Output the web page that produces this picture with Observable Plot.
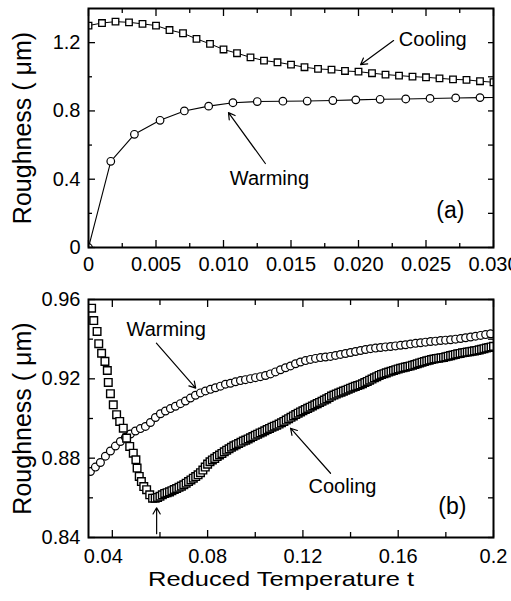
<!DOCTYPE html>
<html>
<head>
<meta charset="utf-8">
<script src="https://cdn.jsdelivr.net/npm/d3@7"></script>
<script src="https://cdn.jsdelivr.net/npm/@observablehq/plot@0.6"></script>
<style>
  html, body { margin: 0; padding: 0; background: white; overflow: hidden; }
  #chart svg { display: block; }
</style>
</head>
<body>
<div id="chart"></div>
<script>
// ---------- Panel (a) data ----------
const topCoolT = [0, 0.001, 0.002, 0.003, 0.004, 0.005, 0.006, 0.007, 0.008, 0.009, 0.010,
  0.011, 0.012, 0.013, 0.014, 0.015, 0.016, 0.017, 0.018, 0.019, 0.020,
  0.021, 0.022, 0.023, 0.024, 0.025, 0.026, 0.027, 0.028, 0.029, 0.030];
const topCoolV = [1.300, 1.315, 1.323, 1.319, 1.310, 1.300, 1.274, 1.255, 1.222, 1.193, 1.160,
  1.138, 1.114, 1.095, 1.085, 1.071, 1.056, 1.046, 1.042, 1.034, 1.030,
  1.021, 1.013, 1.007, 1.001, 0.997, 0.991, 0.985, 0.982, 0.974, 0.968];
const topWarmT = [0, 0.00165, 0.0034, 0.0053, 0.0071, 0.0089, 0.0107, 0.0125, 0.0144, 0.0162,
  0.0181, 0.0198, 0.0216, 0.0235, 0.0253, 0.0272, 0.0290, 0.0309];
const topWarmV = [0, 0.505, 0.663, 0.745, 0.800, 0.828, 0.848, 0.855, 0.857, 0.858,
  0.861, 0.865, 0.868, 0.870, 0.873, 0.876, 0.878, 0.879];

// ---------- Panel (b) data ----------
const botWarmT = [0.0308, 0.0329, 0.0350, 0.0371, 0.0392, 0.0413, 0.0434, 0.0455, 0.0476, 0.0497,
  0.0518, 0.0539, 0.0560, 0.0581, 0.0602, 0.0623, 0.0644, 0.0665, 0.0686, 0.0707,
  0.0728, 0.0749, 0.0770, 0.0791, 0.0812, 0.0833, 0.0854, 0.0875, 0.0896, 0.0917,
  0.0938, 0.0959, 0.0980, 0.1001, 0.1022, 0.1043, 0.1064, 0.1085, 0.1106, 0.1127,
  0.1148, 0.1169, 0.1190, 0.1211, 0.1232, 0.1253, 0.1274, 0.1295, 0.1316, 0.1337,
  0.1358, 0.1379, 0.1400, 0.1421, 0.1442, 0.1463, 0.1484, 0.1505, 0.1526, 0.1547,
  0.1568, 0.1589, 0.1610, 0.1631, 0.1652, 0.1673, 0.1694, 0.1715, 0.1736, 0.1757,
  0.1778, 0.1799, 0.1820, 0.1841, 0.1862, 0.1883, 0.1904, 0.1925, 0.1946, 0.1967, 0.1988];
const botWarmV = [0.8733, 0.8755, 0.8778, 0.8810, 0.8836, 0.8861, 0.8884, 0.8905, 0.8922, 0.8937,
  0.8949, 0.8960, 0.8980, 0.9005, 0.9024, 0.9038, 0.9050, 0.9062, 0.9075, 0.9088,
  0.9103, 0.9117, 0.9129, 0.9139, 0.9147, 0.9155, 0.9163, 0.9173, 0.9178, 0.9185,
  0.9191, 0.9196, 0.9201, 0.9206, 0.9211, 0.9217, 0.9225, 0.9235, 0.9246, 0.9256,
  0.9265, 0.9276, 0.9285, 0.9292, 0.9298, 0.9303, 0.9307, 0.9310, 0.9313, 0.9318,
  0.9323, 0.9328, 0.9333, 0.9338, 0.9343, 0.9348, 0.9352, 0.9355, 0.9358, 0.9361,
  0.9363, 0.9366, 0.9369, 0.9372, 0.9376, 0.9379, 0.9382, 0.9385, 0.9388, 0.9390,
  0.9393, 0.9395, 0.9397, 0.9400, 0.9403, 0.9407, 0.9411, 0.9415, 0.9419, 0.9423, 0.9427];

const botCoolT = [0.0313, 0.0322, 0.0336, 0.0343, 0.0355, 0.0369, 0.0379, 0.0383, 0.0392, 0.0404,
  0.0418, 0.0431, 0.0446, 0.0460, 0.0473, 0.0488, 0.0499, 0.0504, 0.0513, 0.0522,
  0.0532, 0.0544, 0.0557, 0.0569,
  0.058, 0.059, 0.060, 0.061, 0.062, 0.063, 0.064, 0.065, 0.066, 0.067, 0.068, 0.069,
  0.070, 0.071, 0.072, 0.073, 0.074, 0.075, 0.076, 0.077, 0.078, 0.079,
  0.080, 0.081, 0.082, 0.083, 0.084, 0.085, 0.086, 0.087, 0.088, 0.089,
  0.090, 0.091, 0.092, 0.093, 0.094, 0.095, 0.096, 0.097, 0.098, 0.099,
  0.100, 0.101, 0.102, 0.103, 0.104, 0.105, 0.106, 0.107, 0.108, 0.109,
  0.110, 0.111, 0.112, 0.113, 0.114, 0.115, 0.116, 0.117, 0.118, 0.119,
  0.120, 0.121, 0.122, 0.123, 0.124, 0.125, 0.126, 0.127, 0.128, 0.129,
  0.130, 0.131, 0.132, 0.133, 0.134, 0.135, 0.136, 0.137, 0.138, 0.139,
  0.140, 0.141, 0.142, 0.143, 0.144, 0.145, 0.146, 0.147, 0.148, 0.149,
  0.150, 0.151, 0.152, 0.153, 0.154, 0.155, 0.156, 0.157, 0.158, 0.159,
  0.160, 0.161, 0.162, 0.163, 0.164, 0.165, 0.166, 0.167, 0.168, 0.169,
  0.170, 0.171, 0.172, 0.173, 0.174, 0.175, 0.176, 0.177, 0.178, 0.179,
  0.180, 0.181, 0.182, 0.183, 0.184, 0.185, 0.186, 0.187, 0.188, 0.189,
  0.190, 0.191, 0.192, 0.193, 0.194, 0.195, 0.196, 0.197, 0.198, 0.199, 0.200];
const botCoolV = [0.9556, 0.9494, 0.9439, 0.9377, 0.9329, 0.9288, 0.9242, 0.9182, 0.9125, 0.9069,
  0.9019, 0.8985, 0.8951, 0.8901, 0.8859, 0.8825, 0.8792, 0.8750, 0.8708, 0.8682,
  0.8657, 0.8641, 0.8615, 0.8598,
  0.8598, 0.8602, 0.8608, 0.8615, 0.8622, 0.8626, 0.8630, 0.8636, 0.8642, 0.8647, 0.8653, 0.8659,
  0.8666, 0.8674, 0.8682, 0.8690, 0.8699, 0.8707, 0.8716, 0.8727, 0.8740, 0.8755,
  0.8770, 0.8782, 0.8791, 0.8799, 0.8808, 0.8816, 0.8824, 0.8832, 0.8840, 0.8847,
  0.8855, 0.8862, 0.8868, 0.8874, 0.8880, 0.8886, 0.8891, 0.8897, 0.8903, 0.8909,
  0.8915, 0.8921, 0.8927, 0.8932, 0.8938, 0.8944, 0.8950, 0.8956, 0.8961, 0.8966,
  0.8972, 0.8978, 0.8985, 0.8992, 0.8999, 0.9006, 0.9013, 0.9020, 0.9027, 0.9033,
  0.9039, 0.9045, 0.9051, 0.9057, 0.9063, 0.9069, 0.9075, 0.9081, 0.9087, 0.9093,
  0.9099, 0.9106, 0.9113, 0.9118, 0.9123, 0.9128, 0.9133, 0.9138, 0.9143, 0.9148,
  0.9153, 0.9158, 0.9162, 0.9166, 0.9170, 0.9175, 0.9181, 0.9187, 0.9193, 0.9199,
  0.9205, 0.9211, 0.9217, 0.9222, 0.9226, 0.9230, 0.9234, 0.9238, 0.9242, 0.9246,
  0.9250, 0.9253, 0.9256, 0.9259, 0.9262, 0.9265, 0.9268, 0.9272, 0.9276, 0.9280,
  0.9284, 0.9287, 0.9291, 0.9294, 0.9297, 0.9300, 0.9302, 0.9304, 0.9306, 0.9308,
  0.9311, 0.9314, 0.9317, 0.9320, 0.9323, 0.9326, 0.9328, 0.9331, 0.9333, 0.9335,
  0.9337, 0.9339, 0.9341, 0.9343, 0.9346, 0.9349, 0.9352, 0.9355, 0.9358, 0.9361, 0.9364];

// ---------- Ticks & labels ----------
const topXMajor = [0, 0.005, 0.010, 0.015, 0.020, 0.025, 0.030];
const topXMinor = [0.0025, 0.0075, 0.0125, 0.0175, 0.0225, 0.0275];
const topXLabels = ["0", "0.005", "0.010", "0.015", "0.020", "0.025", "0.030"];
const topYMajor = [0, 0.4, 0.8, 1.2];
const topYMinor = [0.2, 0.6, 1.0];
const topYLabels = ["0", "0.4", "0.8", "1.2"];

const botXMajor = [0.04, 0.08, 0.12, 0.16, 0.2];
const botXMinor = [0.06, 0.10, 0.14, 0.18];
const botXLabels = ["0.04", "0.08", "0.12", "0.16", "0.2"];
const botYMajor = [0.84, 0.88, 0.92, 0.96];
const botYMinor = [0.86, 0.90, 0.94];
const botYLabels = ["0.84", "0.88", "0.92", "0.96"];

const yTitle = "Roughness ( μm)";
const xTitle = "Reduced Temperature t";

// ---------- Annotations ----------
const topNoteText = ["Cooling", "Warming", "(a)"];
const topNoteT = [0.0255, 0.0134, 0.0268];
const topNoteV = [1.218, 0.404, 0.217];
const topArrowT1 = [0.0226, 0.0131];
const topArrowV1 = [1.212, 0.492];
const topArrowT2 = [0.02015, 0.01037];
const topArrowV2 = [1.071, 0.790];

const botNoteText = ["Warming", "Cooling", "(b)"];
const botNoteT = [0.0626, 0.1366, 0.1827];
const botNoteV = [0.9447, 0.8657, 0.8556];
const botArrowT1 = [0.0585, 0.1316, 0.0586];
const botArrowV1 = [0.9380, 0.8724, 0.8419];
const botArrowT2 = [0.0750, 0.1148, 0.0586];
const botArrowV2 = [0.9153, 0.8951, 0.8550];

// ---------- helpers ----------
const FONT = "'Liberation Sans', Arial, Helvetica, sans-serif";
const pts = (T, V) => T.map((t, i) => ({t, v: V[i]}));
const arrows = (T1, V1, T2, V2) => T1.map((t, i) => ({x1: t, y1: V1[i], x2: T2[i], y2: V2[i]}));
const notes = (txt, T, V) => txt.map((s, i) => ({s, t: T[i], v: V[i]}));
const blank = () => "";

function inTicks(xMaj, xMin, yMaj, yMin, maj, min, rightAll) {
  const c = {label: null, tickFormat: blank, strokeWidth: 1.3};
  return [
    Plot.axisX({...c, anchor: "bottom", ticks: xMaj, tickSize: maj, dy: -maj}),
    Plot.axisX({...c, anchor: "bottom", ticks: xMin, tickSize: min, dy: -min}),
    Plot.axisX({...c, anchor: "top", ticks: xMaj, tickSize: maj, dy: maj}),
    Plot.axisX({...c, anchor: "top", ticks: xMin, tickSize: min, dy: min}),
    Plot.axisY({...c, anchor: "left", ticks: yMaj, tickSize: maj, dx: maj}),
    Plot.axisY({...c, anchor: "left", ticks: yMin, tickSize: min, dx: min}),
    Plot.axisY({...c, anchor: "right", ticks: yMaj, tickSize: rightAll, dx: -rightAll}),
    Plot.axisY({...c, anchor: "right", ticks: yMin, tickSize: rightAll, dx: -rightAll})
  ];
}
function labelAxes(xMaj, xLab, yMaj, yLab, xPad, firstDx) {
  const xm = new Map(xMaj.map((v, i) => [v, xLab[i]]));
  const ym = new Map(yMaj.map((v, i) => [v, yLab[i]]));
  const base = {anchor: "bottom", tickSize: 0, tickPadding: xPad, tickFormat: d => xm.get(d), label: null, fontSize: 20};
  return [
    Plot.axisX({...base, ticks: xMaj.slice(0, 1), dx: firstDx}),
    Plot.axisX({...base, ticks: xMaj.slice(1)}),
    Plot.axisY({anchor: "left", ticks: yMaj, tickSize: 0, tickPadding: 8, tickFormat: d => ym.get(d), label: null, fontSize: 20})
  ];
}

const style = {fontFamily: FONT, fontSize: "20px", color: "black", background: "white"};

// ---------- Panel (a) ----------
const topPlot = Plot.plot({
  width: 511, height: 280,
  marginLeft: 88, marginRight: 18, marginTop: 8, marginBottom: 33,
  x: {domain: [0, 0.03]},
  y: {domain: [0, 1.4]},
  style,
  marks: [
    Plot.line(pts(topWarmT, topWarmV), {x: "t", y: "v", stroke: "black", strokeWidth: 1.1, clip: true}),
    Plot.line(pts(topCoolT, topCoolV), {x: "t", y: "v", stroke: "black", strokeWidth: 1, clip: true}),
    Plot.dot(pts(topWarmT, topWarmV), {x: "t", y: "v", r: 3.8, fill: "white", stroke: "black", strokeWidth: 1.2, clip: true}),
    Plot.dot(pts(topCoolT, topCoolV), {x: "t", y: "v", symbol: "square", r: 3.7, fill: "white", stroke: "black", strokeWidth: 1.3, clip: true}),
    Plot.arrow(arrows(topArrowT1, topArrowV1, topArrowT2, topArrowV2), {x1: "x1", y1: "y1", x2: "x2", y2: "y2", stroke: "black", strokeWidth: 1.2, headLength: 9}),
    Plot.text(notes(topNoteText, topNoteT, topNoteV), {x: "t", y: "v", text: "s", fontSize: d => d.s === "(a)" ? 23 : 20, fill: "black", textAnchor: "middle", lineAnchor: "middle"}),
    ...inTicks(topXMajor, topXMinor, topYMajor, topYMinor, 7, 4, 6),
    ...labelAxes(topXMajor, topXLabels, topYMajor, topYLabels, 9, 0),
    Plot.text([yTitle], {frameAnchor: "left", dx: -66, rotate: -90, fontSize: 25, textAnchor: "middle", lineAnchor: "middle", fill: "black"}),
    Plot.frame({stroke: "black", strokeWidth: 2})
  ]
});

// ---------- Panel (b) ----------
const botPlot = Plot.plot({
  width: 511, height: 321,
  marginLeft: 88, marginRight: 18, marginTop: 19, marginBottom: 64,
  x: {domain: [0.03, 0.2]},
  y: {domain: [0.84, 0.96]},
  style,
  marks: [
    Plot.dot(pts(botWarmT, botWarmV), {x: "t", y: "v", r: 3.9, fill: "white", stroke: "black", strokeWidth: 1.2, clip: true}),
    Plot.dot(pts(botCoolT, botCoolV), {x: "t", y: "v", symbol: "square", r: 4.3, fill: "white", stroke: "black", strokeWidth: 1.4, clip: true}),
    Plot.arrow(arrows(botArrowT1, botArrowV1, botArrowT2, botArrowV2), {x1: "x1", y1: "y1", x2: "x2", y2: "y2", stroke: "black", strokeWidth: 1.2, headLength: 9}),
    Plot.text(notes(botNoteText, botNoteT, botNoteV), {x: "t", y: "v", text: "s", fontSize: d => d.s === "(b)" ? 23 : 20, fill: "black", textAnchor: "middle", lineAnchor: "middle"}),
    ...inTicks(botXMajor, botXMinor, botYMajor, botYMinor, 7, 5, 6),
    ...labelAxes(botXMajor, botXLabels, botYMajor, botYLabels, 11, -9),
    Plot.text([yTitle], {frameAnchor: "left", dx: -66, rotate: -90, fontSize: 25, textAnchor: "middle", lineAnchor: "middle", fill: "black"}),
    Plot.text([xTitle], {frameAnchor: "bottom", dx: -10, dy: 42, fontSize: 21, textAnchor: "middle", lineAnchor: "middle", fill: "black"}),
    Plot.frame({stroke: "black", strokeWidth: 2})
  ]
});

// widen the x-axis title to the reference's letter spread
d3.select(botPlot).selectAll("text")
  .filter(function () { return this.textContent === xTitle; })
  .attr("textLength", 266)
  .attr("lengthAdjust", "spacingAndGlyphs");

const root = document.getElementById("chart");
root.appendChild(topPlot);
root.appendChild(botPlot);
</script>
</body>
</html>
